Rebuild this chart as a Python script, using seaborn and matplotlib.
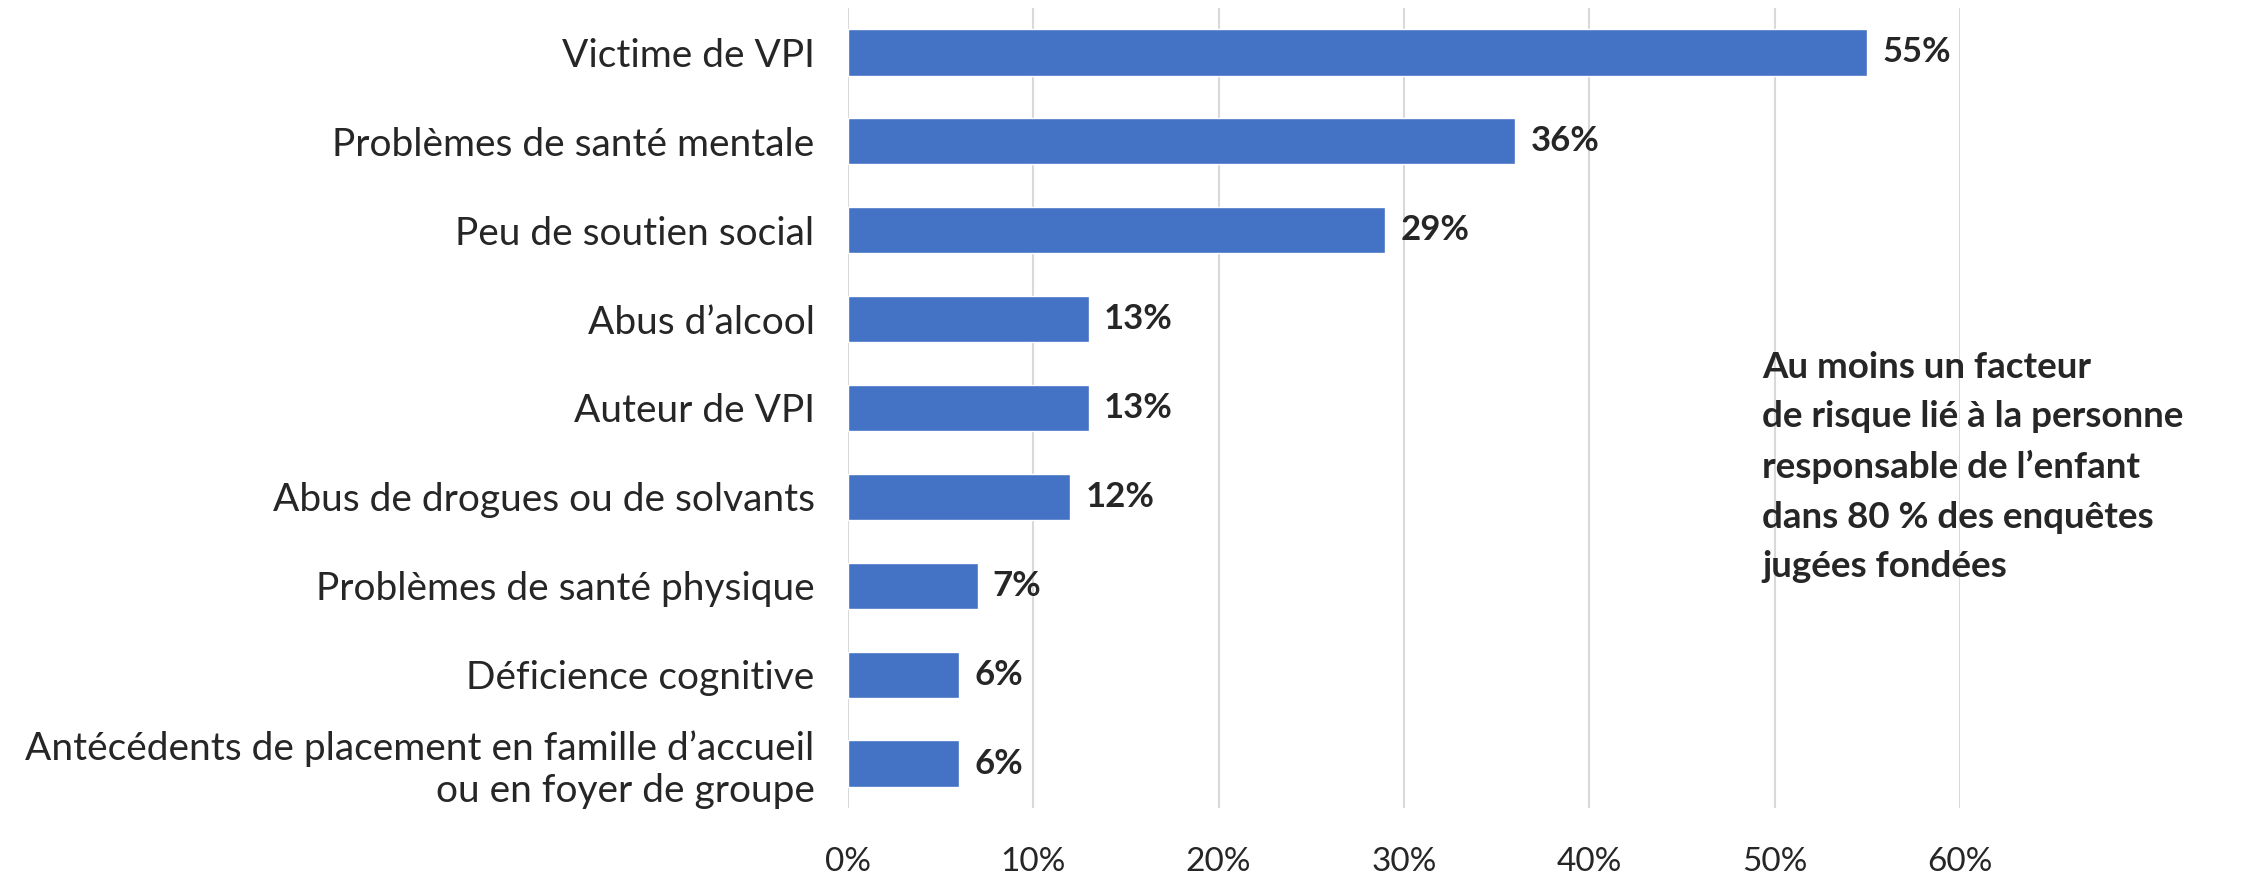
import matplotlib
matplotlib.use("Agg")
import matplotlib.pyplot as plt
import seaborn as sns
import pandas as pd

# Données
categories = [
    "Victime de VPI",
    "Problèmes de santé mentale",
    "Peu de soutien social",
    "Abus d’alcool",
    "Auteur de VPI",
    "Abus de drogues ou de solvants",
    "Problèmes de santé physique",
    "Déficience cognitive",
    "Antécédents de placement en famille d’accueil\nou en foyer de groupe",
]
valeurs = [55, 36, 29, 13, 13, 12, 7, 6, 6]
x_ticks = [0, 10, 20, 30, 40, 50, 60]
note = ("Au moins un facteur\nde risque lié à la personne\nresponsable de l’enfant\n"
        "dans 80 % des enquêtes\njugées fondées")

df = pd.DataFrame({"Facteur": categories, "Pourcentage": valeurs})

sns.set_style("white")
plt.rcParams['font.family'] = ['Lato', 'DejaVu Sans']

fig = plt.figure(figsize=(22.43, 8.73), dpi=100)
ax = fig.add_axes([0.378, 0.0745, 0.4958, 0.9163])

sns.barplot(data=df, y="Facteur", x="Pourcentage", orient="h",
            color="#4472C4", saturation=1, width=0.52, ax=ax, zorder=3)

ax.set_xlim(0, 60)
ax.set_xticks(x_ticks)
ax.set_xticklabels([f"{t}%" for t in x_ticks], fontsize=24)
ax.xaxis.grid(True, color="#D9D9D9", linewidth=1.5, zorder=0)
ax.yaxis.grid(False)
for s in ax.spines.values():
    s.set_visible(False)
ax.tick_params(axis="y", length=0, pad=24, labelsize=28)
ax.tick_params(axis="x", length=0, pad=28)
ax.set_xlabel("")
ax.set_ylabel("")

ax.bar_label(ax.containers[0], fmt="%d%%", padding=11, fontsize=25,
             fontweight="bold")

fig.text(0.7856, 0.465, note, fontsize=26.5, fontweight="bold",
         ha="left", va="center", linespacing=1.6)

fig.savefig("out.png", dpi=100)
